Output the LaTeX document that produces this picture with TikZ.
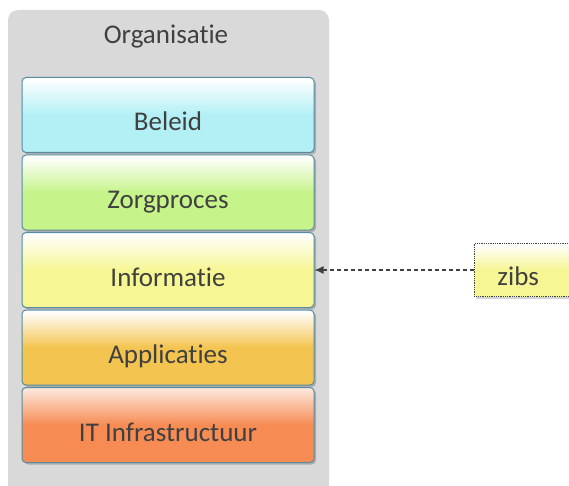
\documentclass[tikz,border=0pt]{standalone}
\usepackage{fontspec}
\setmainfont{Carlito}[Ligatures=NoCommon]
\usetikzlibrary{positioning,shadows,arrows.meta}

\definecolor{achter}{RGB}{217,217,217}
\definecolor{rand}{RGB}{85,140,160}
\definecolor{tekst}{RGB}{64,64,64}
\definecolor{cBeleid}{RGB}{178,240,246}
\definecolor{cZorg}{RGB}{198,244,138}
\definecolor{cInfo}{RGB}{246,246,148}
\definecolor{cAppl}{RGB}{244,196,80}
\definecolor{cIT}{RGB}{246,140,84}
\colorlet{laagkleur}{cBeleid}
\colorlet{laagtop}{white}

% verticale kleurverloop: onderaan kleur, bovenaan wit
\pgfdeclareverticalshading[laagkleur,laagtop]{laagverloop}{100bp}{
  color(0bp)=(laagkleur); color(25bp)=(laagkleur); color(50bp)=(laagkleur);
  color(74bp)=(laagtop); color(100bp)=(laagtop)}

\tikzset{
  laag/.style={draw=rand, line width=1pt, rounded corners=4pt,
    minimum width=292pt, minimum height=75pt, text height=32pt, text depth=0pt,
    /utils/exec={\colorlet{laagkleur}{#1}}, shading=laagverloop,
    drop shadow={shadow xshift=2pt, shadow yshift=-2pt, opacity=0.5},
    text=tekst, font=\fontsize{27}{30}\selectfont},
  bron/.style={draw=tekst, densely dotted, line width=0.8pt,
    minimum width=130pt, minimum height=53pt, inner xsep=23pt, text width=84pt,
    align=left, text height=30pt, text depth=0pt,
    /utils/exec={\colorlet{laagkleur}{cInfo}}, shading=laagverloop,
    drop shadow={shadow xshift=2pt, shadow yshift=-2pt, opacity=0.35},
    text=tekst, font=\fontsize{27}{30}\selectfont},
}

\begin{document}
\begin{tikzpicture}[x=1pt,y=1pt,node distance=1.5pt]
\useasboundingbox (0,0) rectangle (569,-486);
\fill[achter, rounded corners=10pt] (8,-10) rectangle (329,-500);
\node[text=tekst, font=\fontsize{27}{30}\selectfont] (org) at (166,-37) {Organisatie};

\node[laag=cBeleid] (beleid) at (168,-115) {Beleid};
\node[laag=cZorg, below=of beleid] (zorg) {Zorgproces};
\node[laag=cInfo, below=of zorg] (info) {Informatie};
\node[laag=cAppl, below=of info] (appl) {Applicaties};
\node[laag=cIT, /utils/exec={\colorlet{laagtop}{cIT!22!white}}, below=of appl] (it) {IT Infrastructuur};

\node[bron, anchor=west] (zibs) at (474,-270) {zibs};

\draw[tekst, line width=1.2pt, dash pattern=on 4pt off 3pt, -{Latex[length=9pt,width=8pt]}] (zibs.west) -- (info.east |- zibs.west);
\end{tikzpicture}
\end{document}
